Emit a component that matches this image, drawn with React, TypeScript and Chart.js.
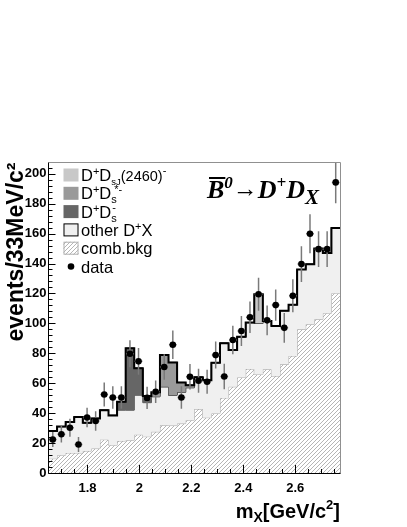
import React, { useEffect, useRef } from "react";
import { Chart, registerables } from "chart.js";

Chart.register(...registerables);

// ---- binning of the histogram (33 MeV bins) ----
const BIN_LOW = 1.65;
const BIN_WIDTH = 0.033;
const X_MIN = 1.65;
const X_MAX = 2.772;
const Y_MIN = 0;
const Y_MAX = 207.5;

// ---- stacked components, contents per bin ----
const combBkg = [
  9.6, 11.9, 13.4, 13.4, 14.7, 16.3, 22.3, 18.6, 21.4, 21.9, 25.6, 24.3, 27.5, 31.9, 31.7, 33.0, 35.3,
  42.7, 37.0, 39.8, 50.2, 57.6, 63.9, 69.5, 65.9, 69.3, 64.8, 72.6, 78.2, 96.0, 99.4, 102.7, 106.8, 120.2,
];
const otherDX = [
  18.4, 19.1, 20.6, 24.1, 18.8, 20.2, 19.7, 19.9, 20.6, 20.1, 26.4, 22.7, 23.5, 25.7, 20.3, 21.0, 21.7,
  21.3, 25.0, 33.9, 36.5, 24.6, 27.1, 31.0, 34.1, 32.2, 33.5, 35.9, 34.3, 40.0, 40.1, 47.3, 40.2, 43.5,
];
const dDs = [
  0, 0, 0, 0, 0, 0, 0, 0, 5.6, 41.3, 18.0, 4.5, 0, 0, 0, 0, 0,
  0, 0, 0, 0, 0, 0, 0, 0, 0, 0, 0, 0, 0, 0, 0, 0, 0,
];
const dDsStar = [
  0, 0, 0, 0, 0, 0, 0, 0, 0, 0, 0, 0, 3.0, 21.2, 21.9, 6.5, 1.7,
  0, 0, 0, 0, 0, 0, 0, 0, 0, 0, 0, 0, 0, 0, 0, 0, 0,
];
const dDsJ = [
  0, 0, 0, 0, 0, 0, 0, 0, 0, 0, 0, 0, 0, 0, 0, 0, 0,
  0, 0, 0, 0, 0, 0, 0, 19.5, 0, 0, 0, 0, 0, 0, 0, 0, 0,
];

// ---- data points and their errors ----
const dataCounts = [
  22.4, 25.9, 30.2, 19.0, 37.1, 34.8, 52.5, 50.5, 50.5, 79.7, 74.6, 50.2, 54.3, 70.8, 85.7, 50.5, 64.3,
  61.6, 61.0, 78.8, 64.5, 88.9, 94.9, 104.1, 119.5, 102.0, 112.2, 97.0, 118.4, 139.6, 159.9, 149.6, 149.6, 194.2,
];
const dataErrors = [
  5, 5.5, 6, 5, 6.5, 6.5, 8, 7.5, 7.5, 9, 9, 7.5, 7.5, 8.5, 9.5, 7.5, 8.5,
  8, 8, 9, 8.5, 9.5, 10, 10.5, 11, 10, 10.5, 10, 11, 12, 13, 12, 12, 14,
];

// ---- axis ticks ----
const xTickLabels = [1.8, 2.0, 2.2, 2.4, 2.6];
const xMinorTicks = [1.7, 1.75, 1.85, 1.9, 1.95, 2.05, 2.1, 2.15, 2.25, 2.3, 2.35, 2.45, 2.5, 2.55, 2.65, 2.7, 2.75];
const yTickLabels = [0, 20, 40, 60, 80, 100, 120, 140, 160, 180, 200];
const Y_MINOR_STEP = 4;

const SANS = '"Liberation Sans", Arial, Helvetica, sans-serif';
const SERIF = '"Liberation Serif", "Times New Roman", serif';

type Part = { t: string; size: number; dy?: number; dx?: number; style?: string; family?: string; adv?: boolean };

function drawParts(ctx: CanvasRenderingContext2D, x: number, y: number, parts: Part[]) {
  let cx = x;
  for (const p of parts) {
    ctx.font = `${p.style ?? ""} ${p.size}px ${p.family ?? SANS}`;
    cx += p.dx ?? 0;
    ctx.fillText(p.t, cx, y + (p.dy ?? 0));
    if (p.adv !== false) cx += ctx.measureText(p.t).width;
  }
  return cx;
}
function measureParts(ctx: CanvasRenderingContext2D, parts: Part[]) {
  let w = 0;
  for (const p of parts) {
    ctx.font = `${p.style ?? ""} ${p.size}px ${p.family ?? SANS}`;
    w += p.dx ?? 0;
    if (p.adv !== false) w += ctx.measureText(p.t).width;
  }
  return w;
}

function makeHatch(): CanvasPattern | string {
  const c = document.createElement("canvas");
  c.width = 4;
  c.height = 4;
  const g = c.getContext("2d");
  if (!g) return "#ddd";
  g.fillStyle = "#ffffff";
  g.fillRect(0, 0, 4, 4);
  g.strokeStyle = "#a2a2a2";
  g.lineWidth = 0.8;
  g.beginPath();
  g.moveTo(0, 4);
  g.lineTo(4, 0);
  g.moveTo(-1, 1);
  g.lineTo(1, -1);
  g.moveTo(3, 5);
  g.lineTo(5, 3);
  g.stroke();
  return g.createPattern(c, "repeat") ?? "#ddd";
}

export default function App() {
  const ref = useRef<HTMLCanvasElement>(null);

  useEffect(() => {
    const canvas = ref.current;
    if (!canvas) return;
    const hatch = makeHatch();
    const N = combBkg.length;
    const edges = Array.from({ length: N + 1 }, (_, i) => BIN_LOW + i * BIN_WIDTH);
    const centers = Array.from({ length: N }, (_, i) => BIN_LOW + (i + 0.5) * BIN_WIDTH);

    const lvlComb = combBkg.slice();
    const lvlOther = lvlComb.map((v, i) => v + otherDX[i]);
    const lvlDs = lvlOther.map((v, i) => v + dDs[i]);
    const lvlDsStar = lvlDs.map((v, i) => v + dDsStar[i]);
    const lvlTotal = lvlDsStar.map((v, i) => v + dDsJ[i]);
    const stepPts = (lv: number[]) => edges.map((x, i) => ({ x, y: lv[Math.min(i, N - 1)] }));

    const DATA_INDEX = 6;

    const errorBars = {
      id: "errorBars",
      beforeDatasetDraw(chart: any, args: any) {
        if (args.index !== DATA_INDEX) return;
        const { ctx, chartArea: a } = chart;
        const xs = chart.scales.x;
        const ys = chart.scales.y;
        ctx.save();
        ctx.beginPath();
        ctx.rect(a.left, a.top, a.right - a.left, a.bottom - a.top);
        ctx.clip();
        ctx.strokeStyle = "#7a7a7a";
        ctx.lineWidth = 1.5;
        centers.forEach((c, i) => {
          const v = dataCounts[i];
          const e = dataErrors[i];
          const px = xs.getPixelForValue(c);
          const py = ys.getPixelForValue(v);
          ctx.beginPath();
          ctx.moveTo(px, ys.getPixelForValue(v - e));
          ctx.lineTo(px, ys.getPixelForValue(v + e));
          ctx.moveTo(xs.getPixelForValue(c - 0.45 * BIN_WIDTH), py);
          ctx.lineTo(xs.getPixelForValue(c + 0.45 * BIN_WIDTH), py);
          ctx.stroke();
        });
        ctx.restore();
      },
    };

    const frameAndTicks = {
      id: "frameAndTicks",
      afterDatasetsDraw(chart: any) {
        const { ctx, chartArea: a } = chart;
        const xs = chart.scales.x;
        const ys = chart.scales.y;
        const L = Math.floor(a.left) + 0.5;
        const B = Math.floor(a.bottom) + 0.5;
        const R = Math.floor(a.right) + 0.5;
        const T = Math.floor(a.top) + 0.5;
        ctx.save();
        ctx.lineWidth = 1;
        ctx.strokeStyle = "#909090";
        ctx.beginPath();
        ctx.moveTo(L, T);
        ctx.lineTo(R, T);
        ctx.lineTo(R, B);
        ctx.stroke();
        ctx.strokeStyle = "#000";
        ctx.beginPath();
        ctx.moveTo(L, T);
        ctx.lineTo(L, B);
        ctx.lineTo(R, B);
        for (let v = Y_MIN; v <= Y_MAX; v += Y_MINOR_STEP) {
          const py = Math.round(ys.getPixelForValue(v)) + 0.5;
          const major = yTickLabels.includes(v);
          ctx.moveTo(L, py);
          ctx.lineTo(L + (major ? 7 : 4), py);
        }
        for (const v of xTickLabels) {
          const px = Math.round(xs.getPixelForValue(v)) + 0.5;
          ctx.moveTo(px, B);
          ctx.lineTo(px, B - 8.5);
        }
        for (const v of xMinorTicks) {
          const px = Math.round(xs.getPixelForValue(v)) + 0.5;
          ctx.moveTo(px, B);
          ctx.lineTo(px, B - 4.5);
        }
        ctx.stroke();
        ctx.restore();
      },
    };

    const overlays = {
      id: "overlays",
      afterDraw(chart: any) {
        const ctx: CanvasRenderingContext2D = chart.ctx;
        ctx.save();
        ctx.fillStyle = "#000";
        ctx.textBaseline = "alphabetic";
        ctx.textAlign = "left";

        // x axis title, right aligned to the axis end
        const xt: Part[] = [
          { t: "m", size: 20, style: "bold" },
          { t: "X", size: 14, style: "bold", dy: 4 },
          { t: "[GeV/c", size: 20, style: "bold" },
          { t: "2", size: 13, style: "bold", dy: -9 },
          { t: "]", size: 20, style: "bold" },
        ];
        const wx = measureParts(ctx, xt);
        drawParts(ctx, chart.chartArea.right - wx, 518, xt);

        // physics label
        const title: Part[] = [
          { t: "B", size: 26, style: "italic bold", family: SERIF },
          { t: "0", size: 17, style: "italic bold", family: SERIF, dy: -10 },
          { t: "\u2192", size: 25, style: "", family: SERIF, dy: -1 },
          { t: "D", size: 26, style: "italic bold", family: SERIF },
          { t: "+", size: 17, style: "italic bold", family: SERIF, dy: -10 },
          { t: "D", size: 26, style: "italic bold", family: SERIF },
          { t: "X", size: 21, style: "italic bold", family: SERIF, dy: 6 },
        ];
        const tx = 207;
        const ty = 198;
        drawParts(ctx, tx, ty, title);
        ctx.font = `italic bold 26px ${SERIF}`;
        const bw = ctx.measureText("B").width;
        ctx.fillRect(tx + 2, 177, bw - 1, 2);

        // legend
        const rows = [175, 193.3, 211.6, 229.9, 248.2, 266.5];
        const bx = 63.5;
        const tX = 81;
        const fills: (string | CanvasPattern)[] = ["#c8c8c8", "#9a9a9a", "#666666", "#f0f0f0", hatch];
        fills.forEach((f, i) => {
          const cy = rows[i];
          ctx.fillStyle = f as any;
          ctx.fillRect(bx, cy - 6.5, 15, 13);
          if (i === 3) {
            ctx.strokeStyle = "#000";
            ctx.lineWidth = 1;
            ctx.strokeRect(bx + 0.5, cy - 6, 14, 12);
          }
          if (i === 4) {
            ctx.strokeStyle = "#b0b0b0";
            ctx.lineWidth = 1;
            ctx.strokeRect(bx + 0.5, cy - 6, 14, 12);
          }
        });
        ctx.fillStyle = "#000";
        const fs = 16.5;
        const ss = 11;
        const entries: Part[][] = [
          [
            { t: "D", size: fs },
            { t: "+", size: ss, dy: -6 },
            { t: "D", size: fs },
            { t: "sJ", size: 9.5, dy: 4 },
            { t: "(2460)", size: 14.5 },
            { t: "-", size: ss, dy: -7 },
          ],
          [
            { t: "D", size: fs },
            { t: "+", size: ss, dy: -6 },
            { t: "D", size: fs },
            { t: "s", size: ss, dy: 4, adv: false },
            { t: "*-", size: ss, dy: -6, dx: 3 },
          ],
          [
            { t: "D", size: fs },
            { t: "+", size: ss, dy: -6 },
            { t: "D", size: fs },
            { t: "s", size: ss, dy: 4, adv: false },
            { t: "-", size: ss, dy: -7, dx: 1 },
          ],
          [
            { t: "other D", size: fs },
            { t: "+", size: ss, dy: -6 },
            { t: "X", size: fs },
          ],
          [{ t: "comb.bkg", size: fs }],
          [{ t: "data", size: fs }],
        ];
        entries.forEach((parts, i) => drawParts(ctx, tX, rows[i] + 6, parts));
        ctx.beginPath();
        ctx.arc(bx + 7.5, rows[5], 3.3, 0, Math.PI * 2);
        ctx.fill();
        ctx.restore();
      },
    };

    const chart = new Chart(canvas, {
      type: "line",
      data: {
        datasets: [
          {
            label: "comb.bkg",
            data: stepPts(lvlComb),
            stepped: "before",
            fill: "origin",
            backgroundColor: hatch as any,
            borderColor: "#a8a8a8",
            borderWidth: 1,
            pointRadius: 0,
            order: 6,
          },
          {
            label: "other D+X",
            data: stepPts(lvlOther),
            stepped: "before",
            fill: "-1",
            backgroundColor: "#f0f0f0",
            borderColor: "#444",
            borderWidth: 1,
            pointRadius: 0,
            order: 5,
          },
          {
            label: "D+Ds-",
            data: stepPts(lvlDs),
            stepped: "before",
            fill: "-1",
            backgroundColor: "#666666",
            borderColor: "#333",
            borderWidth: 1,
            pointRadius: 0,
            order: 4,
          },
          {
            label: "D+Ds*-",
            data: stepPts(lvlDsStar),
            stepped: "before",
            fill: "-1",
            backgroundColor: "#9a9a9a",
            borderColor: "#333",
            borderWidth: 1,
            pointRadius: 0,
            order: 3,
          },
          {
            label: "D+DsJ(2460)-",
            data: stepPts(lvlTotal),
            stepped: "before",
            fill: "-1",
            backgroundColor: "#c8c8c8",
            borderColor: "#333",
            borderWidth: 1,
            pointRadius: 0,
            order: 2,
          },
          {
            label: "total",
            data: stepPts(lvlTotal),
            stepped: "before",
            fill: false,
            borderColor: "#000",
            borderWidth: 2,
            pointRadius: 0,
            order: 1,
          },
          {
            label: "data",
            data: centers.map((x, i) => ({ x, y: dataCounts[i] })),
            showLine: false,
            fill: false,
            pointRadius: 3.3,
            pointBackgroundColor: "#000",
            pointBorderColor: "#000",
            pointBorderWidth: 0,
            order: 0,
          },
        ],
      },
      options: {
        responsive: false,
        animation: false,
        devicePixelRatio: 1,
        layout: { padding: { left: 0, top: 162.5, right: 67, bottom: 0 } },
        plugins: { legend: { display: false }, tooltip: { enabled: false } },
        scales: {
          x: {
            type: "linear",
            min: X_MIN,
            max: X_MAX,
            afterFit: (s: any) => {
              s.height = 54;
            },
            afterBuildTicks: (s: any) => {
              s.ticks = xTickLabels.map((v) => ({ value: v }));
            },
            grid: { display: false, drawTicks: false },
            border: { display: false },
            ticks: {
              padding: 8,
              color: "#000",
              maxRotation: 0,
              autoSkip: false,
              font: { family: SANS, size: 13, weight: "bold" },
              callback: (v: any) => String(v),
            },
          },
          y: {
            type: "linear",
            min: Y_MIN,
            max: Y_MAX,
            afterFit: (s: any) => {
              s.width = 48.5;
            },
            afterBuildTicks: (s: any) => {
              s.ticks = yTickLabels.map((v) => ({ value: v }));
            },
            grid: { display: false, drawTicks: false },
            border: { display: false },
            ticks: {
              padding: 2,
              color: "#000",
              autoSkip: false,
              font: { family: SANS, size: 13, weight: "bold" },
              callback: (v: any) => String(v),
            },
            title: {
              display: true,
              text: "events/33MeV/c\u00b2",
              align: "end",
              color: "#000",
              font: { family: SANS, size: 23, weight: "bold" },
              padding: { top: 3, bottom: 0 },
            },
          },
        },
      } as any,
      plugins: [errorBars, frameAndTicks, overlays],
    });
    return () => chart.destroy();
  }, []);

  return (
    <div style={{ position: "fixed", left: 0, top: 0, width: 407, height: 527, background: "#fff" }}>
      <canvas ref={ref} width={407} height={527} style={{ display: "block", width: 407, height: 527 }} />
    </div>
  );
}
